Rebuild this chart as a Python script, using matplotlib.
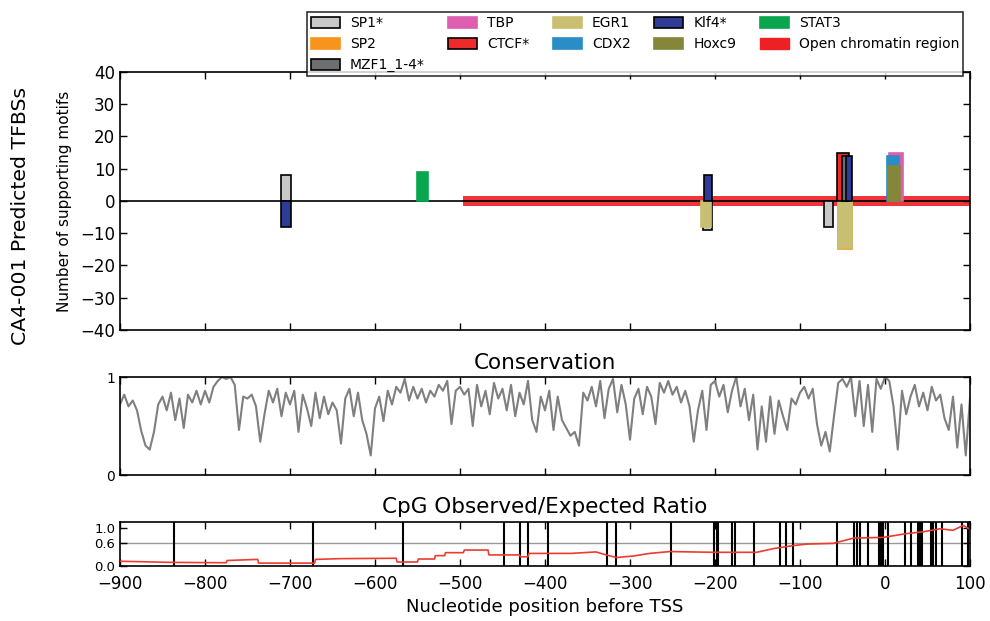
import numpy as np
import matplotlib.pyplot as plt
from matplotlib.patches import Patch

# ============ DADOS ============
# TFBS: (nome, posição inicial, largura, altura)
tf_names = ['SP1*', 'SP2', 'MZF1_1-4*', 'TBP', 'CTCF*', 'EGR1', 'CDX2', 'Klf4*', 'Hoxc9', 'STAT3']
tf_colors = ['#c8c8c8', '#f7941d', '#6d6e70', '#de5fb0', '#ee2a2a',
             '#c9bf72', '#2a8dc5', '#2e3c96', '#84873a', '#0aa54f']
tf_edge = [True, False, True, False, True, False, False, True, False, False]

site_tf = ['SP1*', 'Klf4*', 'STAT3', 'SP1*', 'EGR1', 'Klf4*', 'SP1*',
           'SP2', 'EGR1', 'CTCF*', 'MZF1_1-4*', 'Klf4*', 'TBP', 'CDX2', 'Hoxc9']
site_start = [-710, -710, -550, -214, -216, -213, -72,
              -55, -55, -56, -51, -46, 5, 2, 3]
site_width = [11, 11, 12, 10, 11, 9, 11,
              16, 16, 14, 8, 7, 16, 14, 15]
site_height = [8, -8, 9, -9, -8, 8, -8,
               -15, -14.5, 15, 14, 14, 15, 14, 11]

open_start, open_end = -497, 100

# conservação a cada 5 nt, de -900 a 100
cons_pos = np.arange(-900, 101, 5)
cons_val = [0.72, 0.82, 0.70, 0.76, 0.66, 0.45, 0.30, 0.26, 0.44, 0.72,
            0.80, 0.66, 0.84, 0.56, 0.78, 0.48, 0.82, 0.74, 0.86, 0.72,
            0.86, 0.74, 0.90, 0.96, 1.00, 0.98, 1.00, 0.92, 0.46, 0.80,
            0.78, 0.82, 0.70, 0.34, 0.62, 0.86, 0.74, 0.88, 0.60, 0.84,
            0.72, 0.86, 0.44, 0.82, 0.68, 0.50, 0.84, 0.58, 0.80, 0.62,
            0.74, 0.66, 0.32, 0.78, 0.88, 0.60, 0.84, 0.56, 0.42, 0.20,
            0.68, 0.80, 0.55, 0.86, 0.72, 0.90, 0.84, 0.98, 0.76, 0.90,
            0.78, 0.88, 0.74, 0.86, 0.80, 0.92, 0.86, 0.96, 0.52, 0.86,
            0.90, 0.82, 0.88, 0.50, 0.92, 0.70, 0.86, 0.62, 0.94, 0.78,
            0.88, 0.66, 0.92, 0.60, 0.84, 0.72, 0.96, 0.56, 0.44, 0.80,
            0.66, 0.86, 0.46, 0.80, 0.56, 0.48, 0.40, 0.44, 0.30, 0.84,
            0.76, 0.90, 0.70, 0.96, 0.58, 0.88, 0.98, 0.64, 0.92, 0.72,
            0.36, 0.78, 0.88, 0.62, 0.90, 0.80, 0.52, 0.94, 0.84, 0.96,
            0.82, 0.90, 0.74, 0.86, 0.70, 0.34, 0.66, 0.86, 0.46, 0.92,
            0.96, 0.80, 0.92, 0.64, 0.86, 1.00, 0.70, 0.88, 0.56, 0.82,
            0.26, 0.70, 0.34, 0.80, 0.42, 0.76, 0.60, 0.46, 0.78, 0.72,
            0.84, 0.90, 0.78, 0.88, 0.52, 0.30, 0.44, 0.24, 0.60, 0.94,
            0.98, 0.90, 1.00, 0.60, 0.96, 0.50, 0.92, 0.44, 0.98, 0.88,
            1.00, 0.96, 0.70, 0.26, 0.86, 0.62, 0.80, 0.92, 0.70, 0.84,
            0.66, 0.90, 0.76, 0.82, 0.58, 0.46, 0.80, 0.28, 0.72, 0.20,
            0.78]

# razão CpG observada/esperada
cpg_pos = [-900, -840, -775, -774, -738, -737, -671, -670, -640, -575, -574,
           -550, -549, -530, -529, -518, -517, -496, -495, -467, -466, -430,
           -429, -420, -419, -370, -340, -328, -316, -296, -277, -253, -202,
           -151, -131, -108, -92, -61, -37, -2, 25, 45, 65, 80, 92, 98]
cpg_val = [0.12, 0.09, 0.08, 0.14, 0.17, 0.07, 0.07, 0.17, 0.19, 0.20, 0.10,
           0.10, 0.18, 0.18, 0.27, 0.27, 0.35, 0.35, 0.42, 0.42, 0.29, 0.29,
           0.24, 0.24, 0.33, 0.33, 0.37, 0.29, 0.22, 0.26, 0.33, 0.38, 0.36,
           0.36, 0.46, 0.54, 0.58, 0.60, 0.74, 0.76, 0.86, 0.91, 0.99, 0.95, 1.08, 1.00]
cpg_sites = [-837, -673, -567, -448, -429, -420, -396, -327, -316, -252,
             -201, -198, -196, -180, -176, -154, -124, -116, -108, -56,
             -37, -33, -30, -20, -7, -5, -2, 4, 24, 30, 39, 41, 44,
             54, 57, 60, 67, 90, 98]

# ============ FIGURA ============
fig = plt.figure(figsize=(9.9, 6.21), dpi=100)
ax1 = fig.add_axes([0.1212, 0.4686, 0.8586, 0.4155])
ax2 = fig.add_axes([0.1212, 0.2351, 0.8586, 0.1578])
ax3 = fig.add_axes([0.1212, 0.0890, 0.8586, 0.0709])

for ax in (ax1, ax2, ax3):
    ax.set_xlim(-900, 100)
    ax.tick_params(direction='in', top=True, right=True, length=5, width=1)
    for s in ax.spines.values():
        s.set_linewidth(1.2)

# painel TFBS
ax1.add_patch(plt.Rectangle((open_start, -1.5), open_end - open_start, 3,
                            color='#ed2024', alpha=0.9, lw=0, zorder=1))
ax1.axhline(0, color='k', lw=1.2, zorder=3)
cor = dict(zip(tf_names, tf_colors))
borda = dict(zip(tf_names, tf_edge))
for nome, x0, w, h in zip(site_tf, site_start, site_width, site_height):
    ec = 'k' if borda[nome] else cor[nome]
    ax1.bar(x0, h, width=w, align='edge', color=cor[nome], edgecolor=ec,
            linewidth=1.2, zorder=4)
ax1.set_ylim(-40, 40)
ax1.set_yticks(range(-40, 41, 10))
ax1.set_xticks(range(-900, 101, 100))
ax1.set_xticklabels([])
ax1.tick_params(axis='y', labelsize=12)
ax1.set_ylabel('Number of supporting motifs', fontsize=11, labelpad=6)
fig.text(0.021, 0.652, 'CA4-001 Predicted TFBSs', rotation=90, fontsize=14.7,
         ha='center', va='center')

handles = []
for nome in tf_names:
    ec = 'k' if borda[nome] else cor[nome]
    handles.append(Patch(facecolor=cor[nome], edgecolor=ec, lw=1.2, label=nome))
handles.append(Patch(facecolor='#ed2024', edgecolor='#ed2024', label='Open chromatin region'))
leg = fig.legend(handles=handles, ncol=5, loc='upper right',
                 bbox_to_anchor=(0.980, 0.992), fontsize=10, frameon=True,
                 fancybox=False, edgecolor='k', handlelength=2.1,
                 handleheight=0.85, columnspacing=1.7, handletextpad=0.7,
                 borderpad=0.3, labelspacing=0.5)
leg.get_frame().set_linewidth(1.2)

# painel conservação
ax2.plot(cons_pos, cons_val, color='#7f7f7f', lw=1.5)
ax2.set_ylim(0, 1)
ax2.set_yticks([0, 1])
ax2.set_xticks(range(-900, 101, 100))
ax2.set_xticklabels([])
ax2.tick_params(axis='y', labelsize=10)
ax2.set_title('Conservation', fontsize=15.5, pad=6)

# painel CpG
ax3.axhline(0.6, color='#999999', lw=1, zorder=1)
for p in cpg_sites:
    ax3.axvline(p, color='k', lw=1.5, zorder=2)
ax3.plot(cpg_pos, cpg_val, color='#ee3b2f', lw=1.2, zorder=3)
ax3.set_ylim(0, 1.18)
ax3.set_yticks([0.0, 0.6, 1.0])
ax3.set_yticklabels(['0.0', '0.6', '1.0'])
ax3.tick_params(axis='y', labelsize=9.5)
ax3.set_xticks(range(-900, 101, 100))
ax3.tick_params(axis='x', labelsize=12, pad=7)
ax3.set_title('CpG Observed/Expected Ratio', fontsize=15.5, pad=6)
ax3.set_xlabel('Nucleotide position before TSS', fontsize=13, labelpad=3)

fig.savefig('out.png', dpi=100)
